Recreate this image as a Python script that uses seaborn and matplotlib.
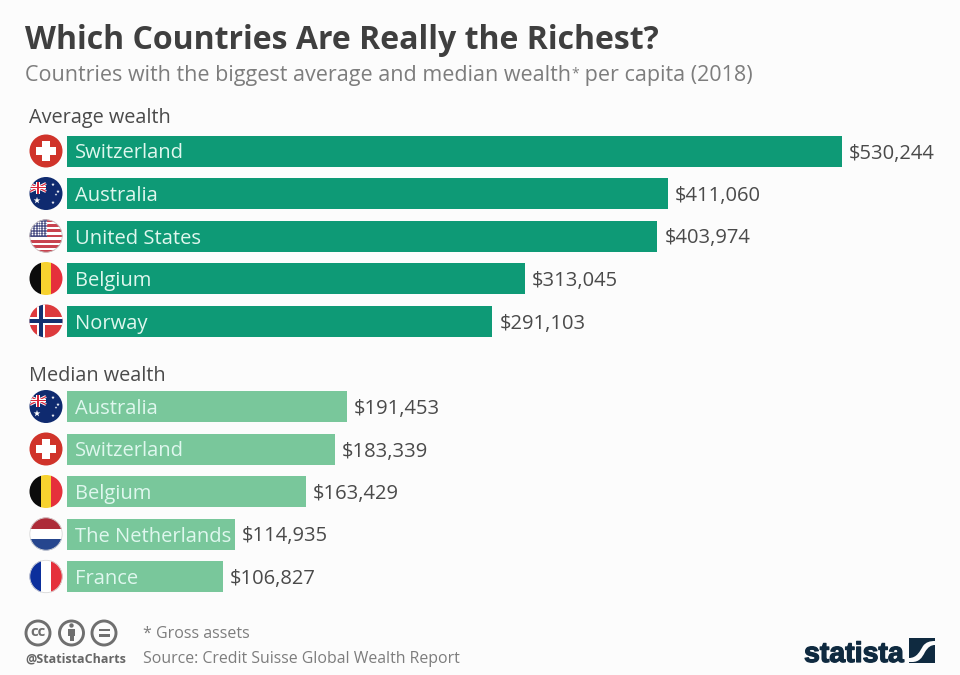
import matplotlib
matplotlib.use("Agg")
import matplotlib.pyplot as plt
import matplotlib.patheffects as pe
import numpy as np
import pandas as pd
import seaborn as sns
from matplotlib.patches import Circle, Rectangle, PathPatch
from matplotlib.path import Path

avg_countries = ["Switzerland", "Australia", "United States", "Belgium", "Norway"]
avg_values = [530244, 411060, 403974, 313045, 291103]
med_countries = ["Australia", "Switzerland", "Belgium", "The Netherlands", "France"]
med_values = [191453, 183339, 163429, 114935, 106827]

TITLE = "Which Countries Are Really the Richest?"
SUBTITLE = "Countries with the biggest average and median wealth"
SUBTITLE_END = " per capita (2018)"
NOTE = "* Gross assets"
SOURCE = "Source: Credit Suisse Global Wealth Report"
HANDLE = "@StatistaCharts"

W, H = 960, 675
BG = "#fcfcfc"
DARK_BAR = "#0e9a76"
LIGHT_BAR = "#79c79b"
TEXT = "#4a4a4a"
GREY = "#7d7d7d"
FONT = "Open Sans"
PT = 72 / 100  # pixels to points at 100 dpi

sns.set_theme(style="white")
plt.rcParams["font.family"] = [FONT, "DejaVu Sans"]

fig = plt.figure(figsize=(W / 100, H / 100), dpi=100, facecolor=BG)

# Canvas in pixel units for headings, flags and footer
bg = fig.add_axes([0, 0, 1, 1], zorder=3)
bg.set_xlim(0, W)
bg.set_ylim(H, 0)
bg.axis("off")


def bar_panel(countries, values, color, center_first):
    pitch, left = 42.5, 67
    top = center_first - pitch / 2
    ax = fig.add_axes([left / W, 1 - (top + 5 * pitch) / H, (W - left) / W, 5 * pitch / H], zorder=2)
    df = pd.DataFrame({"country": countries, "value": values})
    sns.barplot(data=df, x="value", y="country", color=color, saturation=1,
                width=31 / pitch, ax=ax, edgecolor="none", linewidth=0)
    ax.set_xlim(0, (W - left) * 530244 / 775)
    ax.axis("off")
    ax.patch.set_alpha(0)
    labels = [f"${v:,}" for v in values]
    drawn = ax.bar_label(ax.containers[0], labels=labels, padding=7 * PT, fontsize=20.2 * PT,
                         color=TEXT, fontfamily=FONT)
    for label in drawn:
        label.set_verticalalignment("center_baseline")
    for i, name in enumerate(countries):
        ax.annotate(name, xy=(0, i), xytext=(8 * PT, 0), textcoords="offset points",
                    va="center_baseline", ha="left", fontsize=20.2 * PT, color="#dff7ee")
    return ax


bar_panel(avg_countries, avg_values, DARK_BAR, 151)
bar_panel(med_countries, med_values, LIGHT_BAR, 406.5)


def t(x, y, s, size, color=TEXT, **kw):
    return bg.text(x, y, s, fontsize=size * PT, color=color, va="baseline", ha="left", **kw)


t(25, 49, TITLE, 32, "#3f3f3f", fontweight="bold")
sub = t(25, 81, SUBTITLE, 21.5, GREY)
star = bg.annotate("*", xy=(1, 1), xycoords=sub, xytext=(0.5, -1), textcoords="offset points",
                   fontsize=14 * PT, color=GREY, va="top", ha="left")
bg.annotate(SUBTITLE_END, xy=(1, 81), xycoords=(star, "data"), xytext=(0, 0),
            textcoords="offset points", fontsize=21.5 * PT, color=GREY,
            va="baseline", ha="left")
t(29, 123, "Average wealth", 19.9)
t(29, 381, "Median wealth", 19.9)
t(143, 638, NOTE, 16, GREY)
t(143, 663, SOURCE, 15.9, GREY)
t(25, 663, HANDLE, 12.5, "#666666", fontweight="bold")


def clip_disc(cy, r=16.5, cx=46):
    return Circle((cx, cy), r, transform=bg.transData)


def add(patch, disc, z=4):
    patch.set_clip_path(disc)
    patch.set_zorder(z)
    bg.add_patch(patch)
    return patch


def ring(cy, color="#d8d8d8", cx=46, r=16.2):
    bg.add_patch(Circle((cx, cy), r, fc="none", ec=color, lw=0.6, zorder=8))


def rect(cy, x0, y0, w, h, c, z=4):
    disc = clip_disc(cy)
    add(Rectangle((46 + x0, cy + y0), w, h, fc=c, ec="none"), disc, z)


def flag_swiss(cy):
    rect(cy, -17, -17, 34, 34, "#d0332a")
    rect(cy, -10, -4, 20, 8, "white", 5)
    rect(cy, -4, -10, 8, 20, "white", 5)


def flag_aus(cy):
    rect(cy, -17, -17, 34, 34, "#0f2a6f")
    # Union Jack canton
    disc = clip_disc(cy)
    for (x0, y0, x1, y1), c, lw in [((30, cy - 10, 46, cy - 2), "white", 2.2), ((30, cy - 2, 46, cy - 10), "white", 2.2),
                                    ((30, cy - 10, 46, cy - 2), "#d8263c", 0.9), ((30, cy - 2, 46, cy - 10), "#d8263c", 0.9)]:
        ln, = bg.plot([x0, x1], [y0, y1], color=c, lw=lw, zorder=5, solid_capstyle="butt")
        ln.set_clip_path(disc)
    rect(cy, -17, -7.5, 17, 3, "white", 6)
    rect(cy, -10, -12, 4, 12, "white", 6)
    rect(cy, -17, -6.8, 17, 1.6, "#d8263c", 7)
    rect(cy, -8.8, -12, 1.6, 12, "#d8263c", 7)
    bg.scatter([37, 53, 53, 58, 56], [cy + 7, cy - 9, cy + 9, cy - 2, cy + 1], marker="*",
               s=[26, 7, 7, 7, 4], c="white", linewidths=0, zorder=7)


def flag_us(cy):
    rect(cy, -17, -17, 34, 34, "white")
    band = 34 / 13
    for i in range(0, 13, 2):
        rect(cy, -17, -17 + i * band, 34, band, "#c8434f", 5)
    rect(cy, -17, -17, 18, 7 * band, "#4a4f85", 6)
    xs, ys = np.meshgrid(np.arange(32, 47, 2.8), np.arange(cy - 14.5, cy + 1, 2.6))
    bg.scatter(xs.ravel(), ys.ravel(), s=1.6, c="white", linewidths=0, zorder=7, clip_path=clip_disc(cy))
    ring(cy, "#c8c8c8")


def flag_be(cy):
    rect(cy, -17, -17, 11.5, 34, "#0b0b0b")
    rect(cy, -5.5, -17, 11, 34, "#f7d22f")
    rect(cy, 5.3, -17, 11.7, 34, "#e5303b")


def flag_no(cy):
    rect(cy, -17, -17, 34, 34, "#dd3a3d")
    rect(cy, -17, -4, 34, 8, "white", 5)
    rect(cy, -9, -17, 8, 34, "white", 5)
    rect(cy, -17, -2.2, 34, 4.4, "#13306f", 6)
    rect(cy, -7.2, -17, 4.4, 34, "#13306f", 6)


def flag_nl(cy):
    rect(cy, -17, -17, 34, 11.5, "#ad2b38")
    rect(cy, -17, -5.5, 34, 11, "white")
    rect(cy, -17, 5.3, 34, 11.7, "#26468e")
    ring(cy)


def flag_fr(cy):
    rect(cy, -17, -17, 11.5, 34, "#0c2f9c")
    rect(cy, -5.5, -17, 11, 34, "white")
    rect(cy, 5.3, -17, 11.7, 34, "#e5303b")
    ring(cy)


FLAGS = {"Switzerland": flag_swiss, "Australia": flag_aus, "United States": flag_us,
         "Belgium": flag_be, "Norway": flag_no, "The Netherlands": flag_nl, "France": flag_fr}
for i, name in enumerate(avg_countries):
    FLAGS[name](151 + 42.5 * i)
for i, name in enumerate(med_countries):
    FLAGS[name](406.5 + 42.5 * i)

# Creative Commons badges
ICON = "#6f6f6f"
for cx in (38, 71.5, 104):
    bg.add_patch(Circle((cx, 633), 12, fc="none", ec=ICON, lw=2.1, zorder=5))
bg.text(38, 632.5, "cc", fontsize=15 * PT, color=ICON, fontweight="bold", ha="center", va="center", zorder=6)
bg.add_patch(Circle((71.5, 625.5), 2.2, fc=ICON, ec="none", zorder=6))
bg.add_patch(Rectangle((68.2, 629), 6.6, 6.5, fc=ICON, ec="none", zorder=6))
bg.add_patch(Rectangle((69.5, 635), 4, 5.5, fc=ICON, ec="none", zorder=6))
bg.add_patch(Rectangle((98.5, 628.8), 11, 2.4, fc=ICON, ec="none", zorder=6))
bg.add_patch(Rectangle((98.5, 634.2), 11, 2.4, fc=ICON, ec="none", zorder=6))

# Statista wordmark and square
NAVY = "#0f2a40"
bg.text(804, 662, "statista", fontsize=28.5 * PT, color=NAVY, fontweight="bold",
        family=["Liberation Sans"], ha="left", va="baseline",
        path_effects=[pe.withStroke(linewidth=0.9, foreground=NAVY)])
bg.add_patch(Rectangle((909, 638), 26, 25, fc=NAVY, ec="none", zorder=5))
verts = [(909, 658), (917, 658), (920, 651), (923, 646), (926, 642), (930, 641), (935, 641),
         (935, 645), (931, 645), (928, 647), (925, 652), (922, 658), (919, 662), (912, 662), (909, 662), (909, 658)]
codes = [Path.MOVETO, Path.CURVE4, Path.CURVE4, Path.CURVE4, Path.CURVE4, Path.CURVE4, Path.CURVE4,
         Path.LINETO, Path.CURVE4, Path.CURVE4, Path.CURVE4, Path.CURVE4, Path.CURVE4, Path.CURVE4, Path.LINETO, Path.CLOSEPOLY]
bg.add_patch(PathPatch(Path(verts, codes), fc=BG, ec="none", zorder=6))

fig.savefig("out.png", dpi=100, facecolor=BG)
